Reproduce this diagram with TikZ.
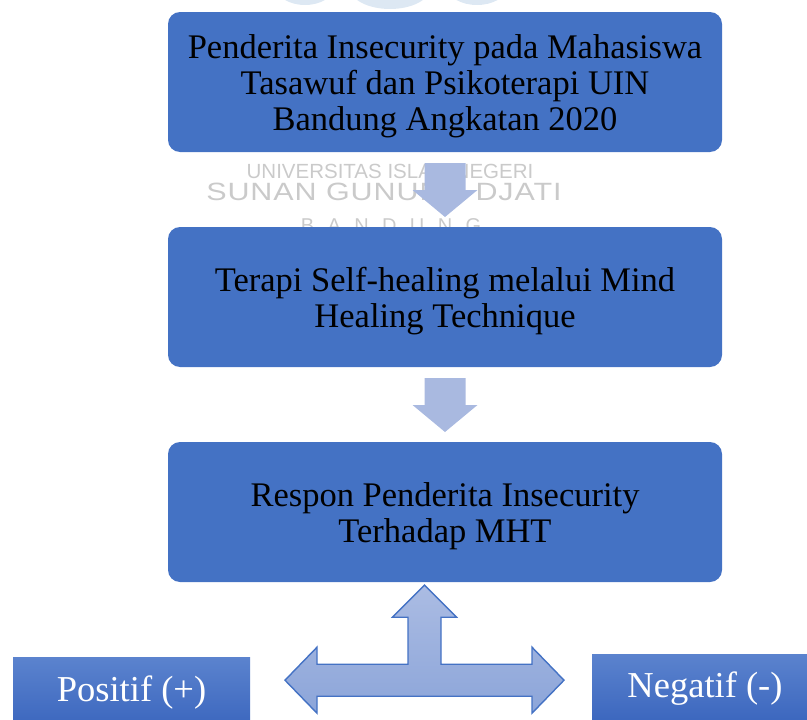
\documentclass[tikz,border=0pt]{standalone}
\usepackage{fontspec}
\setmainfont{Liberation Serif}
\newfontfamily\wmfont{Liberation Sans}
\usetikzlibrary{calc}
\definecolor{boxblue}{HTML}{4472C4}
\definecolor{arrowblue}{HTML}{A9B9E0}
\definecolor{tarrowtop}{HTML}{ABBCE3}
\definecolor{tarrowbot}{HTML}{8CA5D9}
\definecolor{smalltop}{HTML}{5B83CE}
\definecolor{smallbot}{HTML}{3B66BE}
\definecolor{wmgray}{HTML}{CACACA}
\definecolor{logoblue}{HTML}{DDE8F3}
\tikzset{
  mainbox/.style={fill=boxblue, rounded corners=12pt, minimum width=554pt, minimum height=140pt, inner sep=0pt},
  maintext/.style={align=center, text=black, inner sep=0pt, font=\fontsize{34.5}{36}\selectfont},
  sidebox/.style={top color=smalltop, bottom color=smallbot, text=white, inner sep=0pt,
    font=\fontsize{36.5}{40}\selectfont},
  blockarrow/.style={fill=arrowblue},
  tarrow/.style={draw=boxblue, line width=1.4pt, top color=tarrowtop, bottom color=tarrowbot, line join=miter},
  wmtext/.style={text=wmgray, inner sep=0pt, anchor=base}
}
\begin{document}
\begin{tikzpicture}[x=1pt,y=-1pt]
\useasboundingbox (0,0) rectangle (807,720);
% watermark (behind)
\begin{scope}
\clip (0,0) rectangle (807,720);
\fill[logoblue] (305,-12) ellipse (28 and 17);
\fill[logoblue] (390,-12) ellipse (40 and 21);
\fill[logoblue] (477,-12) ellipse (29 and 17);
\end{scope}
\node[wmtext, font=\wmfont\fontsize{20.5}{22}\selectfont] (wm1) at (390,178) {UNIVERSITAS ISLAM NEGERI};
\node[wmtext, font=\wmfont\fontsize{25}{27}\selectfont\addfontfeature{LetterSpace=3}] (wm2) at (384,200) {\scalebox{1.22}[1]{SUNAN GUNUNG DJATI}};
\node[wmtext, font=\wmfont\fontsize{20}{22}\selectfont\addfontfeature{LetterSpace=67}] (wm3) at (391,232) {BANDUNG};
% main boxes
\node[mainbox] (b1) at (445,82) {};
\node[mainbox] (b2) at (445,297) {};
\node[mainbox] (b3) at (445,512) {};
\node[maintext] (b1t) at ($(b1.center)+(0,4)$) {Penderita Insecurity pada Mahasiswa\\Tasawuf dan Psikoterapi UIN\\Bandung Angkatan 2020};
\node[maintext] (b2t) at ($(b2.center)+(0,4)$) {Terapi Self-healing melalui Mind\\Healing Technique};
\node[maintext] (b3t) at ($(b3.center)+(0,4)$) {Respon Penderita Insecurity\\Terhadap MHT};
% down arrows
\coordinate (a1) at ($(b1.south)!0.5!(b2.north)$);
\coordinate (a2) at ($(b2.south)!0.5!(b3.north)$);
\foreach \c in {a1,a2}{
  \begin{scope}[shift={(\c)}]
    \fill[blockarrow] (-20.5,-26.5) -- (20.5,-26.5) -- (20.5,0.5) -- (32.5,0.5) -- (0,27.5)
      -- (-32.5,0.5) -- (-20.5,0.5) -- cycle;
  \end{scope}
}
% side boxes
\node[sidebox, minimum width=237pt, minimum height=71pt] (pos) at (131.5,692.5) {Positif (+)};
\node[sidebox, minimum width=226pt, minimum height=69pt] (neg) at (705,688.5) {Negatif (-)};
% three-way arrow
\coordinate (t) at ($(b3.south)+(-20.5,98)$);
\begin{scope}[shift={(t)}]
\path[tarrow] (0,-95) -- (32,-63) -- (16.5,-63) -- (16.5,-16) -- (107.5,-16) -- (107.5,-33)
  -- (139.5,0) -- (107.5,33) -- (107.5,16) -- (-107.5,16) -- (-107.5,33) -- (-139.5,0)
  -- (-107.5,-33) -- (-107.5,-16) -- (-16.5,-16) -- (-16.5,-63) -- (-32,-63) -- cycle;
\end{scope}
\end{tikzpicture}
\end{document}
